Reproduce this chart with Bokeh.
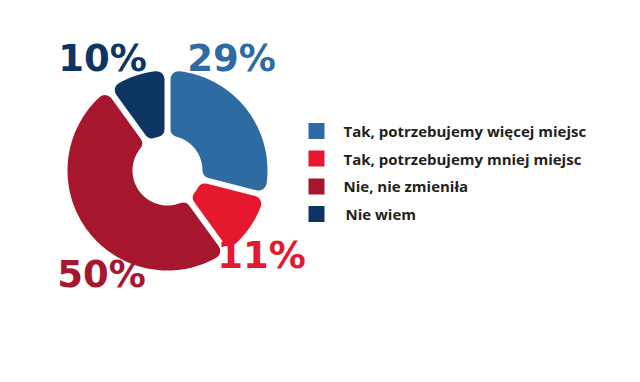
import numpy as np
from bokeh.plotting import figure
from bokeh.models import Range1d, ColumnDataSource
from bokeh.core.properties import value
from bokeh.embed import file_html
from bokeh.resources import INLINE

# ---- data ----
categories = ["Tak, potrzebujemy więcej miejsc", "Tak, potrzebujemy mniej miejsc",
              "Nie, nie zmieniła", "Nie wiem"]
shares = [29, 11, 50, 10]
labels = ["29%", "11%", "50%", "10%"]
colors = ["#2E6BA3", "#E5182D", "#A6172D", "#0D3563"]

# ---- layout (screen pixels) ----
W, H = 624, 366
def sy(y):  # screen y -> data y
    return H - y

cx, cy = 167, sy(170)
R_in, R_out = 35, 100
rr = 8          # corner rounding radius
gap = 6         # white gap between slices

p = figure(width=W, height=H, x_range=Range1d(0, W), y_range=Range1d(0, H),
           output_backend="svg", toolbar_location=None, min_border=0)
p.axis.visible = False
p.grid.visible = False
p.outline_line_color = None
p.background_fill_color = "white"

# donut slices, clockwise from 12 o'clock
total = float(sum(shares))
ends = 90 - np.cumsum(shares) / total * 360.0
starts = np.concatenate([[90.0], ends[:-1]])
xs, ys = [], []
d = gap / 2 + rr
ri, ro = R_in + rr, R_out - rr
for a0, a1 in zip(np.radians(starts), np.radians(ends)):
    oa0, oa1 = a0 - np.arcsin(d / ro), a1 + np.arcsin(d / ro)
    ia0, ia1 = a0 - np.arcsin(d / ri), a1 + np.arcsin(d / ri)
    t_out = np.linspace(oa0, oa1, 80)
    t_in = np.linspace(ia1, ia0, 40)
    px = np.concatenate([cx + ro * np.cos(t_out), cx + ri * np.cos(t_in)])
    py = np.concatenate([cy + ro * np.sin(t_out), cy + ri * np.sin(t_in)])
    xs.append(list(px)); ys.append(list(py))

src = ColumnDataSource(dict(xs=xs, ys=ys, color=colors))
p.patches("xs", "ys", source=src, fill_color="color", line_color="color",
          line_width=2 * rr, line_join="round")

# percentage labels
lab_x = [231, 261, 101, 102]
lab_y = [sy(58), sy(254.5), sy(273.5), sy(58)]
p.text(x=lab_x, y=lab_y, text=labels, text_color=colors,
       text_font=value("DejaVu Sans"), text_font_style="bold", text_font_size="37px",
       text_align="center", text_baseline="middle")

# legend
leg_sq_x = 316
leg_y = [130.5, 158, 186, 213.5]
leg_tx = [343, 343, 343, 345]
leg_ty = [130, 158, 185.5, 213.5]
p.rect(x=[leg_sq_x] * 4, y=[sy(v) for v in leg_y], width=16, height=16,
       fill_color=colors, line_color=None)
p.text(x=leg_tx, y=[sy(v) for v in leg_ty], text=categories, text_color="#231F20",
       text_font=value("Open Sans"), text_font_style="bold", text_font_size="15px",
       text_align="left", text_baseline="middle")

open("out.html", "w").write(file_html(p, INLINE))
